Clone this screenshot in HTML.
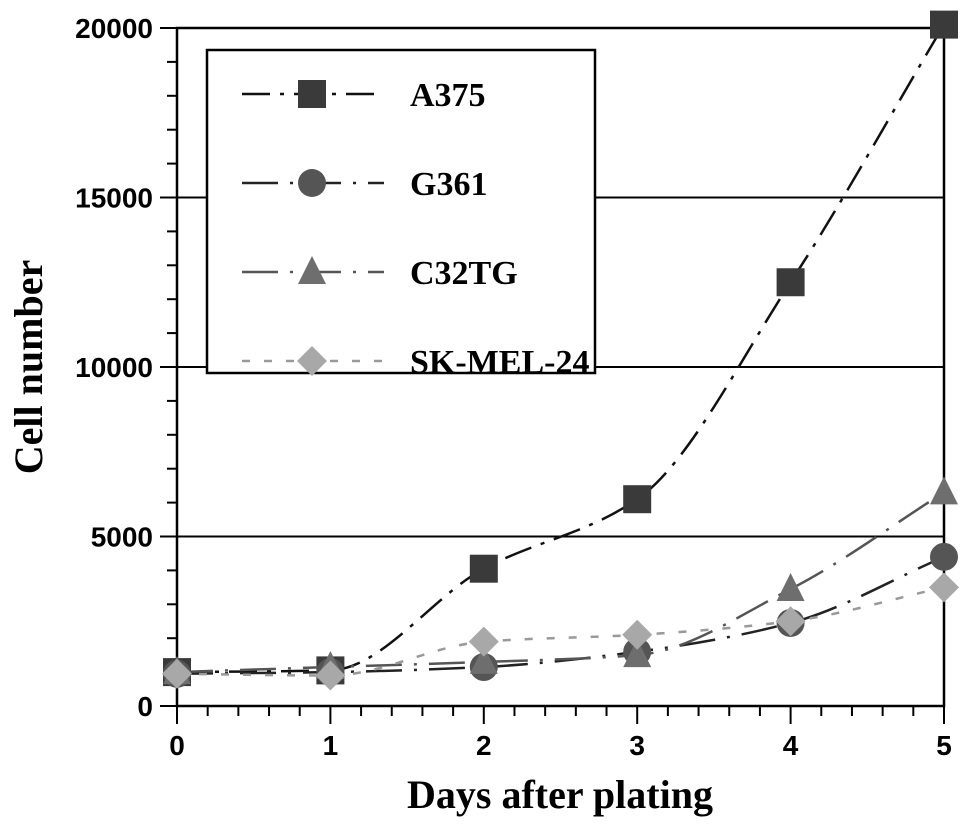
<!DOCTYPE html>
<html><head><meta charset="utf-8"><style>
html,body{margin:0;padding:0;background:#fff}
svg{display:block;font-family:"Liberation Serif",serif}
</style></head><body>
<svg id="c" width="969" height="827"></svg>
<script>
const days=[0,1,2,3,4,5];
const a375=[1000,1050,4050,6100,12500,20100];
const g361=[950,1000,1150,1600,2450,4400];
const c32tg=[1000,1150,1300,1500,3450,6300];
const skmel=[950,900,1900,2100,2500,3500];
const yTicks=[0,5000,10000,15000,20000];
const xTicks=[0,1,2,3,4,5];
const NS="http://www.w3.org/2000/svg";
const svg=document.getElementById('c');
const L=177,R=944,T=28,B=706;
const X=v=>L+(v-0)/5*(R-L);
const Y=v=>B-(v/20000)*(B-T);
function mk(t,a,p){const e=document.createElementNS(NS,t);for(const k in a)e.setAttribute(k,a[k]);(p||svg).appendChild(e);return e;}
yTicks.forEach(v=>{if(v>0&&v<20000){const g=mk('line',{x1:L,x2:R,y1:Y(v),y2:Y(v),stroke:'#000','stroke-width':2});

}});
const fr=mk('rect',{x:L,y:T,width:R-L,height:B-T,fill:'none',stroke:'#000','stroke-width':2.5});


for(let v=0;v<=20000;v+=1000){const maj=v%5000===0;mk('line',{x1:maj?160:167,x2:L,y1:Y(v),y2:Y(v),stroke:'#000','stroke-width':2});}
yTicks.forEach(v=>{const t=mk('text',{x:153,y:Y(v)+10,'text-anchor':'end','font-family':'Liberation Sans, sans-serif','font-size':28,'font-weight':'bold'});t.textContent=v;

});
for(let i=0;i<=25;i++){const v=i/5;const maj=i%5===0;mk('line',{x1:X(v),x2:X(v),y1:B,y2:B+(maj?18:10),stroke:'#000','stroke-width':2});}
xTicks.forEach(v=>{const t=mk('text',{x:X(v),y:755,'text-anchor':'middle','font-family':'Liberation Sans, sans-serif','font-size':28,'font-weight':'bold'});t.textContent=v;

});
const xt=mk('text',{x:560,y:808,'text-anchor':'middle','font-size':40,'font-weight':'bold'});xt.textContent='Days after plating';


const yt=mk('text',{x:0,y:0,'text-anchor':'middle','font-size':40,'font-weight':'bold',transform:'translate(42,367) rotate(-90)'});yt.textContent='Cell number';


const lg=mk('rect',{x:207,y:50,width:388,height:323,fill:'#fff',stroke:'#000','stroke-width':2.5});


function path(vals){const p=days.map((d,i)=>[X(d),Y(vals[i])]);const n=p.length;
const dx=[],sl=[];for(let i=0;i<n-1;i++){dx.push(p[i+1][0]-p[i][0]);sl.push((p[i+1][1]-p[i][1])/dx[i]);}
const m=[sl[0]];for(let i=1;i<n-1;i++){m.push(sl[i-1]*sl[i]<=0?0:2/(1/sl[i-1]+1/sl[i]));}m.push(sl[n-2]);
let s='M'+p[0][0]+','+p[0][1];
for(let i=0;i<n-1;i++){const h=dx[i]/3;s+=` C${p[i][0]+h},${p[i][1]+m[i]*h} ${p[i+1][0]-h},${p[i+1][1]-m[i+1]*h} ${p[i+1][0]},${p[i+1][1]}`;}
return s;}
function marker(shape,x,y,fill,g){
if(shape==='sq')return mk('rect',{x:x-14,y:y-14,width:28,height:28,fill},g);
if(shape==='ci')return mk('circle',{cx:x,cy:y,r:14,fill},g);
if(shape==='tr')return mk('polygon',{points:`${x},${y-16} ${x+14},${y+12} ${x-14},${y+12}`,fill},g);
return mk('polygon',{points:`${x},${y-15} ${x+15},${y} ${x},${y+15} ${x-15},${y}`,fill},g);}
const series=[
{name:'A375',vals:a375,shape:'sq',col:'#3a3a3a',lc:'#111',dash:'28 10 4 10'},
{name:'G361',vals:g361,shape:'ci',col:'#555',lc:'#222',dash:'36 12 3 12'},
{name:'C32TG',vals:c32tg,shape:'tr',col:'#6e6e6e',lc:'#555',dash:'36 12 3 12'},
{name:'SK-MEL-24',vals:skmel,shape:'dm',col:'#a8a8a8',lc:'#999',dash:'8 14'}];
series.forEach((s,k)=>{
const g=mk('g',{});


mk('path',{d:path(s.vals),fill:'none',stroke:s.lc,'stroke-width':2.5,'stroke-dasharray':s.dash},g);
days.forEach((d,i)=>{const m=marker(s.shape,X(d),Y(s.vals[i]),s.col,g);

});
const ly=94+k*89;
const le=mk('g',{});


mk('line',{x1:242,x2:384,y1:ly,y2:ly,stroke:s.lc,'stroke-width':2.5,'stroke-dasharray':s.dash},le);
marker(s.shape,312,ly,s.col,le);
const t=mk('text',{x:410,y:ly+12,'font-size':34,'font-weight':'bold'},le);t.textContent=s.name;
});
</script>
</body></html>
